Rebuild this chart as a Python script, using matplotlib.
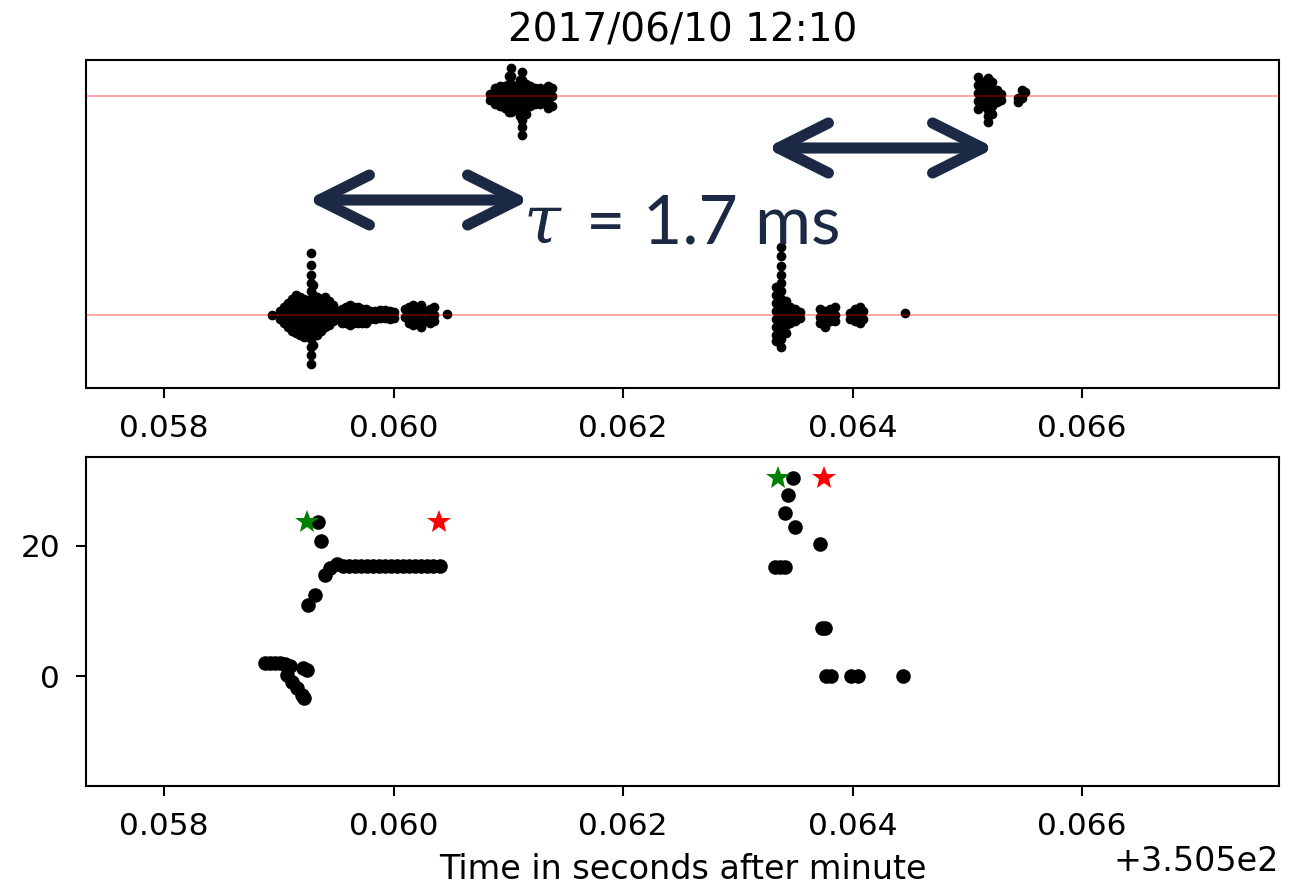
import matplotlib
matplotlib.use('Agg')
import matplotlib.pyplot as plt
from matplotlib.patches import FancyArrowPatch

# ---------------- data ----------------
T0 = 350.5  # seconds after minute (offset)
title = '2017/06/10 12:10'
xlabel = 'Time in seconds after minute'
tau_label = '= 1.7 ms'

# Top panel: waveform samples, grouped by time column (time in us after T0)
# station 0 (lower trace), first pulse
w0a_t = [58939, 59009, 59044, 59079, 59114, 59149, 59183, 59218, 59244, 59279,
         59297, 59332, 59366, 59401, 59436, 59471, 59506, 59550, 59584, 59619,
         59654, 59689, 59724, 59759, 59793, 59837, 59881, 59924, 59968, 60003,
         60098, 60133, 60168, 60203, 60238, 60273, 60316, 60351, 60464]
w0a_a = [[0], [4, -4], [8, 0, -8], [12, 4, -4, -12], [16, 8, 0, -8, -16],
         [20, 12, 4, -4, -12, -18], [18, 10, 2, -6, -14, -20],
         [16, 8, 0, -8, -16, -22], [14, 6, -2, -10, -18],
         [62, 50, 40, 32, 24, 16, 8, 0, -8, -16, -24, -32, -40, -49],
         [30, 20, 10, 0, -10, -20, -30], [18, 10, 2, -6, -14, -20],
         [16, 8, 0, -8, -16], [18, 10, 2, -6, -12], [14, 6, -2, -10],
         [10, 2, -6], [4, -4], [6, -2, -8], [8, 0, -8], [10, 2, -6, -10],
         [8, 0, -8], [8, 0, -8], [6, -2, -8], [6, -2, -8], [4, -4], [4, -4],
         [5, -3], [5, -3], [4, -4], [3, -3], [6, -2], [8, 0, -8],
         [10, 2, -6, -10], [6, -4], [10, 2, -6, -12], [4, -6], [6, -2, -8],
         [8, 0, -6], [1]]
# station 0 (lower trace), second pulse
w0b_t = [63332, 63375, 63419, 63454, 63497, 63541, 63715, 63759, 63802, 63846,
         63976, 64020, 64064, 64090, 64456]
w0b_a = [[28, 20, 12, 4, -4, -12, -20, -26],
         [68, 59, 49, 40, 32, 24, 16, 8, 0, -8, -16, -24, -32],
         [14, 6, -2, -10, -18], [8, 0, -8], [6, -2, -6], [3, -3],
         [6, -2, -8], [4, -4, -12], [6, -2, -6], [8, 0, -6],
         [2, -4], [6, -2, -6], [8, 0, -8], [4, -4], [2]]
# station 1 (upper trace), first pulse
w1a_t = [60839, 60883, 60926, 60970, 61005, 61022, 61057, 61101, 61118, 61153,
         61188, 61231, 61275, 61310, 61345, 61380]
w1a_a = [[2, -4], [8, 0, -8], [10, 2, -6, -10], [10, 2, -6, -12],
         [20, 12, 4, -4, -12, -16], [28, 20, 12, 4, -4, -12, -16],
         [10, 2, -6, -14], [16, 8, 0, -8, -16, -20],
         [24, 16, 8, 0, -8, -16, -24, -31, -39], [12, 4, -4, -12, -18],
         [10, 2, -6, -10], [8, 0, -8], [8, 0, -8], [6, -2, -6],
         [10, 2, -6, -12], [8, 0, -10]]
# station 1 (upper trace), second pulse
w1b_t = [65092, 65127, 65179, 65214, 65258, 65292, 65441, 65475, 65502]
w1b_a = [[19, 11, 3, -5, -13], [14, 6, -2, -10],
         [18, 10, 2, -6, -14, -20, -26], [14, 6, -2, -10, -18],
         [6, -2, -6], [2, -4], [-2, -6], [6, -2], [4]]
station_baselines = [0, 219]

# Bottom panel: source heights (km) vs time (us after T0)
src_t = [58878, 58922, 58966, 59009, 59053, 59096, 59070, 59114, 59157, 59201,
         59218, 59244, 59210, 59253, 59314, 59340, 59366, 59401, 59445, 59506,
         59558, 59611, 59663, 59715, 59767, 59820, 59872, 59924, 59977, 60029,
         60081, 60133, 60186, 60238, 60290, 60342, 60403,
         63480, 63436, 63410, 63497, 63715, 63323, 63367, 63410, 63732, 63759,
         63767, 63811, 63985, 64046, 64438]
src_h = [2.0, 2.0, 2.0, 2.0, 1.9, 1.6, 0.2, -0.9, -1.9, -2.9,
         -3.4, 0.9, 1.2, 10.9, 12.5, 23.7, 20.7, 15.5, 16.6, 17.2,
         16.9, 16.9, 16.9, 16.9, 16.9, 16.9, 16.9, 16.9, 16.9, 16.9,
         16.9, 16.9, 16.9, 16.9, 16.9, 16.9, 16.9,
         30.5, 27.8, 25.1, 22.9, 20.3, 16.8, 16.8, 16.8, 7.4, 7.4,
         0.0, 0.0, 0.0, 0.0, 0.0]
start_t = [59244, 63349]
start_h = [23.7, 30.5]
end_t = [60395, 63750]
end_h = [23.7, 30.5]

# ---------------- figure ----------------
W, H = 1299, 890
fig = plt.figure(figsize=(W / 100, H / 100), dpi=100)
fig.patch.set_facecolor('white')


def fx(px):
    return px / W


def fy(py):
    return 1 - py / H


ax1 = fig.add_axes([fx(86), fy(388), 1193 / W, 328 / H])
ax2 = fig.add_axes([fx(86), fy(786), 1193 / W, 329 / H])

xlim = (T0 + 0.057319, T0 + 0.067715)

# top panel
for base, tl, al in [(station_baselines[0], w0a_t, w0a_a),
                     (station_baselines[0], w0b_t, w0b_a),
                     (station_baselines[1], w1a_t, w1a_a),
                     (station_baselines[1], w1b_t, w1b_a)]:
    xs, ys = [], []
    for t, amps in zip(tl, al):
        for a in amps:
            xs.append(T0 + t * 1e-6)
            ys.append(base + a)
    ax1.plot(xs, ys, 'o', color='black', ms=7, mew=0, zorder=2)
for b in station_baselines:
    ax1.axhline(b, color='red', lw=1.2, alpha=0.4, zorder=3)
ax1.set_xlim(*xlim)
ax1.set_ylim(-73, 255)
ax1.set_yticks([])
ax1.set_xticks([T0 + v for v in (0.058, 0.060, 0.062, 0.064, 0.066)])
ax1.xaxis.get_offset_text().set_visible(False)
ax1.set_title(title, fontsize=28, pad=13)

# bottom panel
ax2.plot([T0 + t * 1e-6 for t in src_t], src_h, 'o', color='black', ms=10.5,
         mew=0, zorder=2)
ax2.plot([T0 + t * 1e-6 for t in start_t], start_h, '*', color='green',
         ms=18, mew=0, zorder=3)
ax2.plot([T0 + t * 1e-6 for t in end_t], end_h, '*', color='red',
         ms=18, mew=0, zorder=3)
ax2.set_xlim(*xlim)
ax2.set_ylim(-16.92, 33.69)
ax2.set_yticks([0, 20])
ax2.set_xticks([T0 + v for v in (0.058, 0.060, 0.062, 0.064, 0.066)])
ax2.set_xlabel(xlabel, fontsize=24, labelpad=9)
ax2.xaxis.get_offset_text().set_fontsize(24)

for ax in (ax1, ax2):
    ax.tick_params(labelsize=22.5, length=7.5, width=1.5, pad=11)
    for s in ax.spines.values():
        s.set_linewidth(1.5)

# overlay annotation
navy = '#1c2944'
for (xa, xb, yy) in [(307, 530, 200), (766, 995, 148)]:
    arr = FancyArrowPatch((fx(xa), fy(yy)), (fx(xb), fy(yy)),
                          arrowstyle='<->,head_length=36,head_width=18',
                          mutation_scale=1, lw=8, color=navy,
                          capstyle='round', joinstyle='round',
                          shrinkA=0, shrinkB=0,
                          transform=fig.transFigure, zorder=10)
    fig.add_artist(arr)
fig.text(fx(524), fy(243), 'τ', fontfamily='DejaVu Serif', style='italic',
         fontsize=48, color=navy, va='baseline', zorder=11)
fig.text(fx(586), fy(243), tau_label, fontfamily='Lato', fontsize=49,
         color=navy, va='baseline', zorder=11)

fig.savefig('out.png', dpi=100)
